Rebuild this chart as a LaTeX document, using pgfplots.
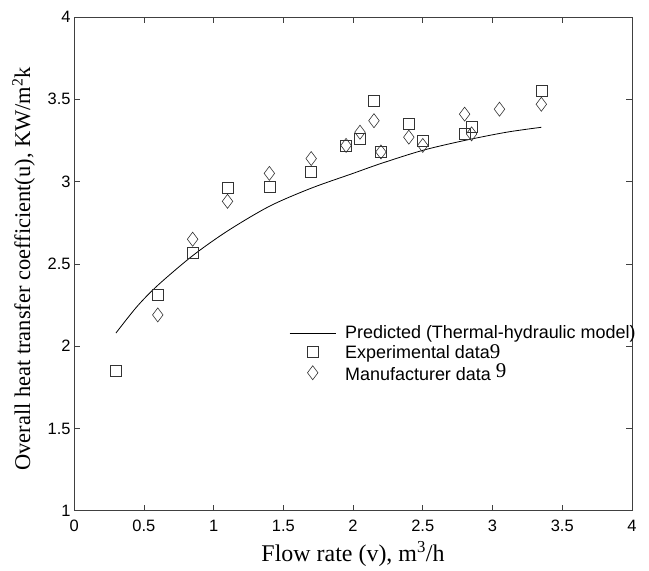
\documentclass[border=0pt]{standalone}
\usepackage{fontspec}
\setmainfont{Liberation Serif}
\setsansfont{Liberation Sans}
\usepackage{pgfplots}
\pgfplotsset{compat=1.18}

\begin{document}
\begin{tikzpicture}
\begin{axis}[
    name=ax,
    scale only axis,
    width=557bp, height=493bp,
    xmin=0, xmax=4, ymin=1, ymax=4,
    xtick={0,0.5,...,4}, ytick={1,1.5,...,4},
    tick align=inside,
    major tick length=6bp,
    tick style={black!75, line width=0.6bp},
    axis line style={black!75, line width=0.8bp},
    /pgf/number format/assume math mode=true,
    ticklabel style={font=\sffamily\fontsize{16.5}{18}\selectfont},
    xticklabel style={yshift=-6bp},
    xlabel={Flow rate (v), m\textsuperscript{3}/h},
    ylabel={Overall heat transfer coefficient(u), KW/m\textsuperscript{2}k},
    xlabel style={font=\fontsize{24}{26}\selectfont, yshift=-3bp},
    ylabel style={font=\fontsize{22.5}{24}\selectfont, yshift=6bp, xshift=-5bp},
    legend style={at={(axis cs:1.52,2.15)}, anchor=north west,
                  draw=none, fill=none,
                  font=\sffamily\fontsize{18}{19}\selectfont,
                  row sep=0bp,
                  /tikz/every odd column/.append style={column sep=7bp}},
    legend cell align=left,
    legend image code/.code={%
      \draw[mark repeat=2, mark phase=2, #1]
        plot coordinates {(0bp,0bp) (23bp,0bp) (46bp,0bp)};},
]
\addplot[black, line width=0.8bp, smooth] coordinates {
 (0.30,2.08) (0.45,2.24) (0.60,2.37) (0.85,2.55) (1.10,2.70)
 (1.40,2.85) (1.70,2.96) (2.00,3.05) (2.20,3.11) (2.50,3.19)
 (2.80,3.25) (3.10,3.30) (3.35,3.33)};
\addlegendentry{Predicted (Thermal-hydraulic model)}

\addplot[only marks, mark=square, mark size=5.5bp, black!80, line width=0.6bp] coordinates {
 (0.30,1.85) (0.60,2.31) (0.85,2.57) (1.10,2.96) (1.40,2.97)
 (1.70,3.06) (1.95,3.22) (2.05,3.26) (2.15,3.49) (2.20,3.18)
 (2.40,3.35) (2.50,3.25) (2.80,3.29) (2.85,3.33) (3.35,3.55)};
\addlegendentry{Experimental data{\rmfamily\fontsize{21}{19}\selectfont 9}}

\addplot[only marks, mark=diamond, mark size=7bp, black!80, line width=0.6bp] coordinates {
 (0.60,2.19) (0.85,2.65) (1.10,2.88) (1.40,3.05) (1.70,3.14)
 (1.95,3.22) (2.05,3.30) (2.15,3.37) (2.20,3.18) (2.40,3.27)
 (2.50,3.22) (2.80,3.41) (2.85,3.29) (3.05,3.44) (3.35,3.47)};
\addlegendentry{Manufacturer data {\rmfamily\fontsize{21}{19}\selectfont\raisebox{3bp}{9}}}
\end{axis}
% invisible frame that fixes the picture's outer size
\path (ax.south west) ++(-74bp,-57bp) (ax.north east) ++(17bp,17bp);
\end{tikzpicture}
\end{document}
